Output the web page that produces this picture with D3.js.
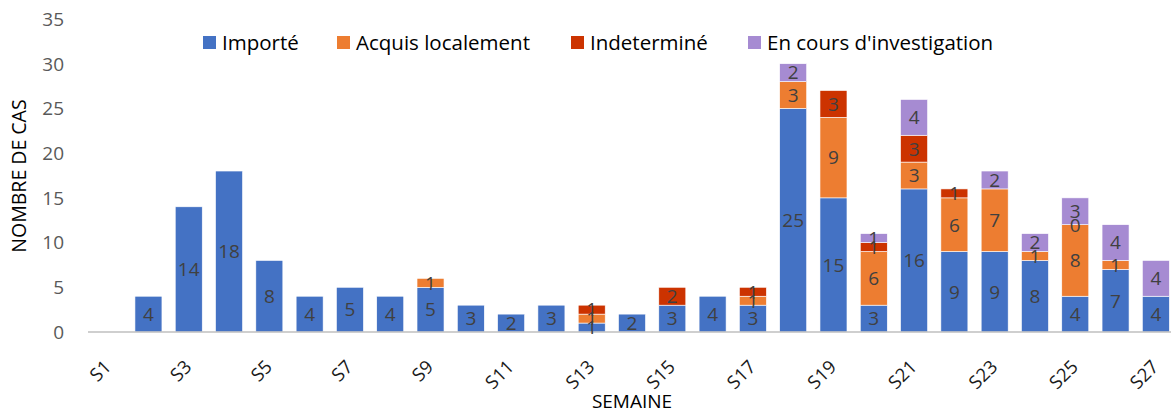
<!DOCTYPE html>
<html><head><meta charset="utf-8">
<script src="https://cdn.jsdelivr.net/npm/d3@7"></script>
<style>
html,body{margin:0;padding:0;background:#fff;}
text{font-family:"Open Sans","Noto Sans",sans-serif;}
</style></head>
<body><svg id="chart" width="1171" height="414"></svg>
<script>
const weeks = d3.range(1,28).map(i=>"S"+i);
const importe   = [null,4,14,18,8,4,5,4,5,3,2,3,1,2,3,4,3,25,15,3,16,9,9,8,4,7,4];
const acquis    = [null,null,null,null,null,null,null,null,1,null,null,null,1,null,null,null,1,3,9,6,3,6,7,1,8,1,null];
const indet     = [null,null,null,null,null,null,null,null,null,null,null,null,1,null,2,null,1,null,3,1,3,1,null,null,0,null,null];
const enCours   = [null,null,null,null,null,null,null,null,null,null,null,null,null,null,null,null,null,2,null,1,4,null,2,2,3,4,4];
const seriesNames = ["Importé","Acquis localement","Indeterminé","En cours d'investigation"];
const colors = ["#4472C4","#ED7D31","#CC3300","#A68BD2"];
const yTicks = [0,5,10,15,20,25,30,35];

const seriesVals = [importe, acquis, indet, enCours];
const rows = weeks.map((w,i)=>{const r={week:w}; seriesNames.forEach((s,k)=>r[s]=seriesVals[k][i]); return r;});
const stack = d3.stack().keys(seriesNames).value((d,k)=>d[k]||0)(rows);

const svg = d3.select("#chart");
const x = d3.scaleBand().domain(weeks).range([88,1176]).paddingInner(0.33).paddingOuter(0.165);
const y = d3.scaleLinear().domain([0,35]).range([332,19]);

// y tick labels
svg.append("g").selectAll("text").data(yTicks).join("text")
  .attr("x",64).attr("y",d=>y(d)).attr("dy","0.36em").attr("text-anchor","end")
  .attr("font-size",19).attr("fill","#595959").text(d=>d);

// bars
stack.forEach((s,k)=>{
  const g = svg.append("g");
  g.selectAll("rect").data(s.filter(d=>d.data[seriesNames[k]]!=null && d.data[seriesNames[k]]>0)).join("rect")
    .attr("x",d=>x(d.data.week)).attr("width",x.bandwidth())
    .attr("y",d=>y(d[1])).attr("height",d=>y(d[0])-y(d[1]))
    .attr("fill",colors[k]).attr("stroke","#fff").attr("stroke-width",0.6);
});

// axis line
svg.append("line").attr("x1",88).attr("x2",1171).attr("y1",y(0)).attr("y2",y(0))
  .attr("stroke","#BFBFBF").attr("stroke-width",1.5);

// data labels
stack.forEach((s,k)=>{
  svg.append("g").selectAll("text").data(s.filter(d=>d.data[seriesNames[k]]!=null)).join("text")
    .attr("x",d=>x(d.data.week)+x.bandwidth()/2)
    .attr("y",d=>(y(d[0])+y(d[1]))/2).attr("dy","0.36em")
    .attr("text-anchor","middle").attr("font-size",19).attr("fill","#404040")
    .text(d=>d.data[seriesNames[k]]);
});

// x tick labels (odd weeks)
svg.append("g").selectAll("text").data(weeks.filter((w,i)=>i%2===0)).join("text")
  .attr("text-anchor","end").attr("font-size",18.5).attr("fill","#1a1a1a")
  .attr("transform",d=>`translate(${x(d)+x.bandwidth()/2+4},368) rotate(-45)`)
  .text(d=>d);

// axis titles
svg.append("text").attr("x",632).attr("y",408).attr("text-anchor","middle")
  .attr("font-size",19).attr("fill","#000").text("SEMAINE");
svg.append("text").attr("transform","translate(26,176) rotate(-90)").attr("text-anchor","middle")
  .attr("font-size",19.5).attr("fill","#000").text("NOMBRE DE CAS");

// legend
const legX = [203,337,571,748];
const leg = svg.append("g").selectAll("g").data(seriesNames).join("g")
  .attr("transform",(d,i)=>`translate(${legX[i]},36)`);
leg.append("rect").attr("width",13).attr("height",13).attr("fill",(d,i)=>colors[i]);
leg.append("text").attr("x",19).attr("y",7).attr("dy","0.36em").attr("font-size",20.5).attr("fill","#000").text(d=>d);
</script></body></html>
